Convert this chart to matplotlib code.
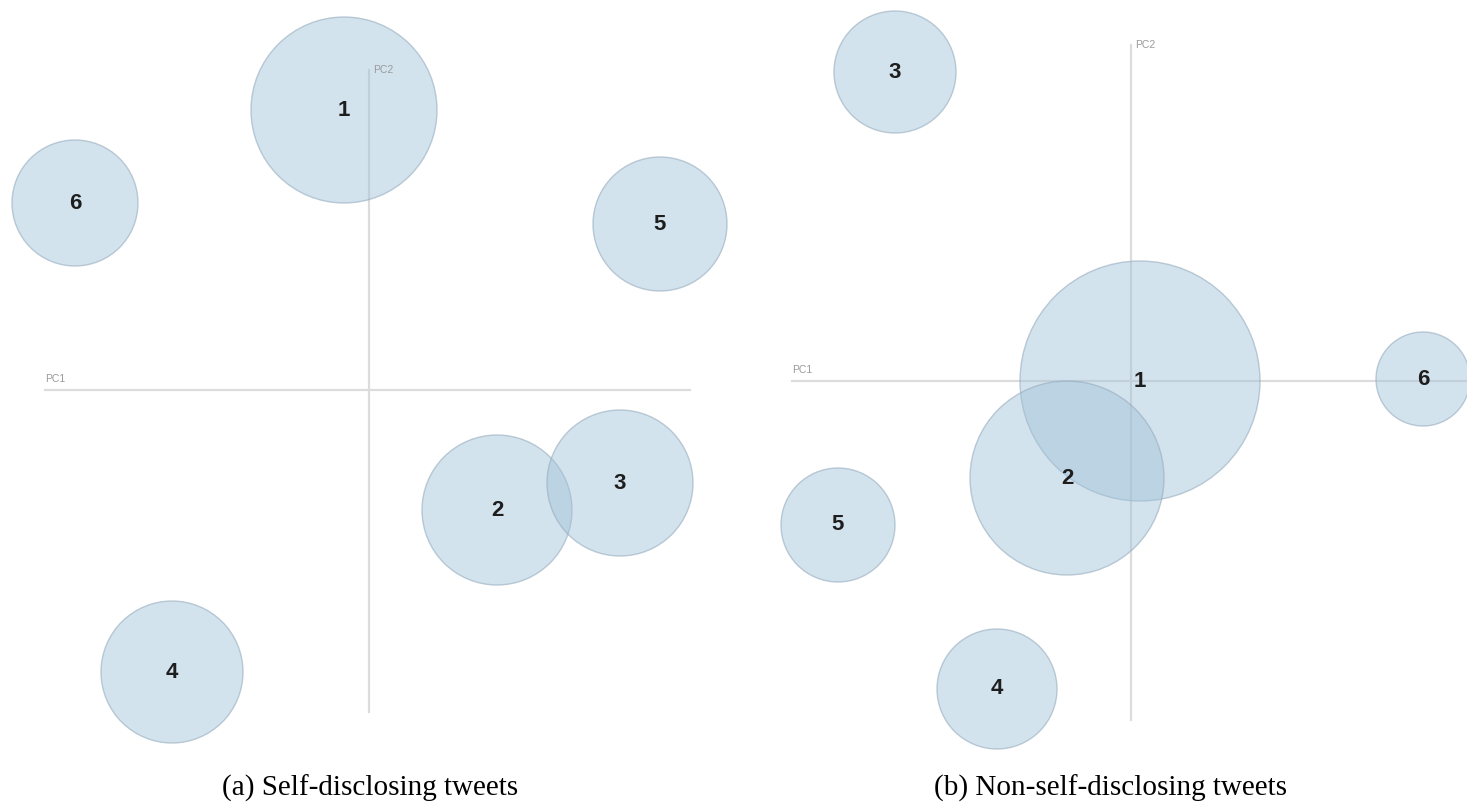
import matplotlib.pyplot as plt
from matplotlib.patches import Circle

# cluster positions in PC space (PC1, PC2) and bubble radius
clusters_a = ['1', '6', '5', '2', '3', '4']
pc1_a = [-0.25, -2.94, 2.91, 1.28, 2.51, -1.97]
pc2_a = [2.80, 1.87, 1.66, -1.20, -0.93, -2.82]
size_a = [0.93, 0.63, 0.67, 0.75, 0.73, 0.71]

clusters_b = ['3', '1', '6', '2', '5', '4']
pc1_b = [-2.36, 0.09, 2.92, -0.64, -2.93, -1.34]
pc2_b = [3.09, 0.00, 0.02, -0.97, -1.44, -3.08]
size_b = [0.61, 1.20, 0.47, 0.97, 0.57, 0.60]

captions = ['(a) Self-disclosing tweets', '(b) Non-self-disclosing tweets']

fill = (159/255, 193/255, 217/255, 0.45)
edge = (150/255, 172/255, 190/255, 0.6)
axis_col = '#dcdcdc'


def draw_panel(ax, labels, xs, ys, rs, xlim, ylim, hline, vline):
    ax.set_xlim(*xlim)
    ax.set_ylim(*ylim)
    ax.set_aspect('equal')
    ax.axis('off')

    # PC axes
    ax.plot(hline, [0, 0], color=axis_col, lw=1.6, zorder=1)
    ax.plot([0, 0], vline, color=axis_col, lw=1.6, zorder=1)
    ax.text(hline[0], 0.06, 'PC1', fontsize=7.5, color='#9a9a9a',
            ha='left', va='bottom', family='Liberation Sans')
    ax.text(0.04, vline[1], 'PC2', fontsize=7.5, color='#9a9a9a',
            ha='left', va='center', family='Liberation Sans')

    for lab, x, y, r in zip(labels, xs, ys, rs):
        ax.add_patch(Circle((x, y), r, facecolor=fill, edgecolor=edge,
                            lw=1.0, zorder=2))
        ax.text(x, y, lab, fontsize=16, fontweight='bold', color='#1e1e1e',
                ha='center', va='center', family='Liberation Sans', zorder=3)


fig = plt.figure(figsize=(14.67, 8.05), dpi=100)

ax_a = fig.add_axes([0, 0, 733/1467, 1])
draw_panel(ax_a, clusters_a, pc1_a, pc2_a, size_a,
           (-3.69, 3.64), (-4.15, 3.90), (-3.24, 3.21), (-3.22, 3.20))

ax_b = fig.add_axes([733/1467, 0, 734/1467, 1])
draw_panel(ax_b, clusters_b, pc1_b, pc2_b, size_b,
           (-3.98, 3.36), (-4.24, 3.81), (-3.39, 3.36), (-3.39, 3.36))

fig.text(370/1467, 0.011, captions[0], fontsize=21, ha='center', va='baseline',
         family='Liberation Serif')
fig.text(1111/1467, 0.011, captions[1], fontsize=21, ha='center', va='baseline',
         family='Liberation Serif')

fig.savefig('out.png', dpi=100)
